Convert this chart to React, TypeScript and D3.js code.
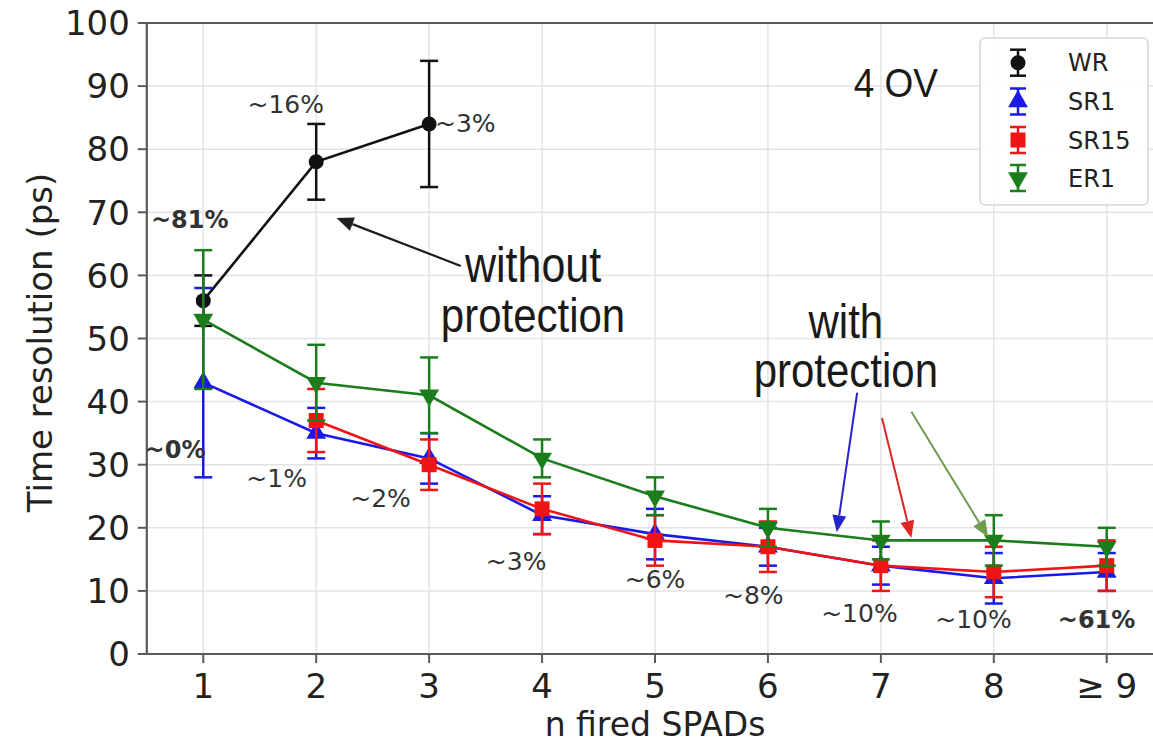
import React from "react";
import * as d3 from "d3";

// ---------- data ----------
const xTickLabels = ["1", "2", "3", "4", "5", "6", "7", "8", "≥ 9"];
const yTicks = [0, 10, 20, 30, 40, 50, 60, 70, 80, 90, 100];

const wrX = [1, 2, 3];
const wrY = [56, 78, 84];
const wrErr = [4, 6, 10];

const sr1X = [1, 2, 3, 4, 5, 6, 7, 8, 9];
const sr1Y = [43, 35, 31, 22, 19, 17, 14, 12, 13];
const sr1Err = [15, 4, 4, 3, 4, 3, 3, 4, 3];

const sr15X = [2, 3, 4, 5, 6, 7, 8, 9];
const sr15Y = [37, 30, 23, 18, 17, 14, 13, 14];
const sr15Err = [5, 4, 4, 4, 4, 4, 4, 4];

const er1X = [1, 2, 3, 4, 5, 6, 7, 8, 9];
const er1Y = [53, 43, 41, 31, 25, 20, 18, 18, 17];
const er1Err = [11, 6, 6, 3, 3, 3, 3, 4, 3];

const seriesNames = ["WR", "SR1", "SR15", "ER1"];

// percentage annotations (text, x, y in data units, bold)
const pctTexts = ["~81%", "~16%", "~3%", "~0%", "~1%", "~2%", "~3%", "~6%", "~8%", "~10%", "~10%", "~61%"];
const pctX = [0.88, 1.73, 3.32, 0.75, 1.65, 2.57, 3.77, 5.0, 5.87, 6.81, 7.82, 8.91];
const pctY = [67.5, 85.7, 82.7, 31, 26.5, 23.3, 13.3, 10.5, 7.9, 5.1, 4.1, 4.1];
const pctBold = [true, false, false, true, false, false, false, false, false, false, false, true];

// ---------- layout ----------
const W = 1153;
const H = 744;
const x = d3.scaleLinear().domain([0.5, 9.5]).range([146.8, 1163.2]);
const y = d3.scaleLinear().domain([0, 100]).range([654, 23]);

const C = {
  WR: "#111111",
  SR1: "#1a1ae8",
  SR15: "#f01414",
  ER1: "#1b7d1b",
};
const colors = [C.WR, C.SR1, C.SR15, C.ER1];

type Kind = "circle" | "up" | "square" | "down";
const kinds: Kind[] = ["circle", "up", "square", "down"];

function Marker({ cx, cy, kind, color }: { cx: number; cy: number; kind: Kind; color: string }) {
  if (kind === "circle") return <circle cx={cx} cy={cy} r={7.5} fill={color} />;
  if (kind === "square") return <rect x={cx - 7.5} y={cy - 7.5} width={15} height={15} fill={color} />;
  const p = d3.symbol().type(d3.symbolTriangle).size(170)()!;
  return <path d={p} transform={`translate(${cx},${cy}) rotate(${kind === "down" ? 180 : 0})`} fill={color} />;
}

function Series({ xs, ys, es, color, kind }: { xs: number[]; ys: number[]; es: number[]; color: string; kind: Kind }) {
  const line = d3
    .line<number>()
    .x((_, i) => x(xs[i]))
    .y((v) => y(v));
  return (
    <g>
      {xs.map((xv, i) => (
        <g key={"e" + i} stroke={color} strokeWidth={2.5}>
          <line x1={x(xv)} x2={x(xv)} y1={y(ys[i] - es[i])} y2={y(ys[i] + es[i])} />
          <line x1={x(xv) - 9} x2={x(xv) + 9} y1={y(ys[i] - es[i])} y2={y(ys[i] - es[i])} />
          <line x1={x(xv) - 9} x2={x(xv) + 9} y1={y(ys[i] + es[i])} y2={y(ys[i] + es[i])} />
        </g>
      ))}
      <path d={line(ys)!} fill="none" stroke={color} strokeWidth={2.6} />
      {xs.map((xv, i) => (
        <Marker key={"m" + i} cx={x(xv)} cy={y(ys[i])} kind={kind} color={color} />
      ))}
    </g>
  );
}

function Arrow({ x0, y0, x1, y1, color, w }: { x0: number; y0: number; x1: number; y1: number; color: string; w: number }) {
  const px0 = x(x0), py0 = y(y0), px1 = x(x1), py1 = y(y1);
  const ang = Math.atan2(py1 - py0, px1 - px0);
  const L = 17, Wd = 7;
  const bx = px1 - L * Math.cos(ang), by = py1 - L * Math.sin(ang);
  const nx = -Math.sin(ang), ny = Math.cos(ang);
  const head = `M${px1},${py1}L${bx + nx * Wd},${by + ny * Wd}L${bx - nx * Wd},${by - ny * Wd}Z`;
  return (
    <g>
      <line x1={px0} y1={py0} x2={bx} y2={by} stroke={color} strokeWidth={w} />
      <path d={head} fill={color} />
    </g>
  );
}

function StretchText({ cx, cy, text, size, anchor = "middle", sy = 1.14 }: { cx: number; cy: number; text: string; size: number; anchor?: string; sy?: number }) {
  return (
    <text
      transform={`translate(${cx},${cy}) scale(1,${sy})`}
      textAnchor={anchor as any}
      fontFamily="'Liberation Sans', Arial, sans-serif"
      fontSize={size}
      fill="#1a1a1a"
    >
      {text}
    </text>
  );
}

export default function App() {
  const font = "'DejaVu Sans', sans-serif";
  const legendY = [62.7, 101.5, 140, 178];
  return (
    <svg width={W} height={H} style={{ position: "absolute", left: 0, top: 0, background: "#fff" }}>
      <rect x={0} y={0} width={W} height={H} fill="#fff" />
      {/* grid */}
      <g stroke="#e3e3e3" strokeWidth={1.5}>
        {xTickLabels.map((_, i) => (
          <line key={"gx" + i} x1={x(i + 1)} x2={x(i + 1)} y1={y(0)} y2={y(100)} />
        ))}
        {yTicks.map((t) => (
          <line key={"gy" + t} x1={x(0.5)} x2={W} y1={y(t)} y2={y(t)} />
        ))}
      </g>

      {/* series */}
      <Series xs={wrX} ys={wrY} es={wrErr} color={C.WR} kind="circle" />
      <Series xs={sr1X} ys={sr1Y} es={sr1Err} color={C.SR1} kind="up" />
      <Series xs={sr15X} ys={sr15Y} es={sr15Err} color={C.SR15} kind="square" />
      <Series xs={er1X} ys={er1Y} es={er1Err} color={C.ER1} kind="down" />

      {/* frame */}
      <g stroke="#5a5a5a" strokeWidth={2.2} fill="none">
        <line x1={x(0.5)} x2={x(0.5)} y1={y(0)} y2={y(100)} />
        <line x1={x(0.5)} x2={W + 5} y1={y(0)} y2={y(0)} />
        <line x1={x(0.5)} x2={W + 5} y1={y(100)} y2={y(100)} />
      </g>

      {/* y ticks */}
      <g fontFamily={font} fontSize={34} fill="#222">
        {yTicks.map((t) => (
          <g key={"yt" + t}>
            <line x1={x(0.5) - 9} x2={x(0.5)} y1={y(t)} y2={y(t)} stroke="#5a5a5a" strokeWidth={2} />
            <text x={x(0.5) - 17} y={y(t)} dy="0.36em" textAnchor="end">
              {t}
            </text>
          </g>
        ))}
      </g>
      {/* x ticks */}
      <g fontFamily={font} fontSize={34} fill="#222">
        {xTickLabels.map((lab, i) => (
          <g key={"xt" + i}>
            <line x1={x(i + 1)} x2={x(i + 1)} y1={y(0)} y2={y(0) + 9} stroke="#5a5a5a" strokeWidth={2} />
            <text x={x(i + 1)} y={698} textAnchor="middle">
              {lab}
            </text>
          </g>
        ))}
      </g>
      <text x={x(5)} y={736} textAnchor="middle" fontFamily={font} fontSize={33} fill="#222">
        n fired SPADs
      </text>
      <text
        transform={`translate(52,${(y(0) + y(100)) / 2 + 4}) rotate(-90)`}
        textAnchor="middle"
        fontFamily={font}
        fontSize={34}
        fill="#222"
      >
        Time resolution (ps)
      </text>

      {/* percentage annotations */}
      <g fontFamily={font} fontSize={25} fill="#333">
        {pctTexts.map((t, i) => (
          <text key={"p" + i} x={x(pctX[i])} y={y(pctY[i])} textAnchor="middle" fontWeight={pctBold[i] ? "bold" : "normal"} fontSize={pctBold[i] ? 24 : 25}>
            {t}
          </text>
        ))}
      </g>

      {/* text annotations */}
      <StretchText cx={x(3.92)} cy={y(59)} text="without" size={43} />
      <StretchText cx={x(3.92)} cy={y(51)} text="protection" size={42} />
      <StretchText cx={x(6.69)} cy={y(50.1)} text="with" size={42} />
      <StretchText cx={x(6.69)} cy={y(42.3)} text="protection" size={42} />
      <StretchText cx={x(6.76)} cy={y(88.3)} text="4 OV" size={37} anchor="start" sy={1.12} />

      {/* arrows */}
      <Arrow x0={3.28} y0={61.5} x1={2.18} y1={69.1} color="#1e1e1e" w={2.2} />
      <Arrow x0={6.79} y0={41.4} x1={6.61} y1={19.3} color="#2424cc" w={2} />
      <Arrow x0={7.01} y0={37.4} x1={7.27} y1={18.4} color="#e02424" w={2} />
      <Arrow x0={7.27} y0={38.4} x1={7.95} y1={18.5} color="#6f9a50" w={2} />

      {/* legend */}
      <rect x={980} y={38} width={168} height={167} rx={5} fill="#fff" fillOpacity={0.85} stroke="#d6d6d6" strokeWidth={1.5} />
      {seriesNames.map((n, i) => {
        const cy = legendY[i];
        const cx = 1018;
        return (
          <g key={"lg" + i}>
            <g stroke={colors[i]} strokeWidth={2.5}>
              <line x1={cx} x2={cx} y1={cy - 13} y2={cy + 13} />
              <line x1={cx - 8} x2={cx + 8} y1={cy - 13} y2={cy - 13} />
              <line x1={cx - 8} x2={cx + 8} y1={cy + 13} y2={cy + 13} />
            </g>
            <Marker cx={cx} cy={cy} kind={kinds[i]} color={colors[i]} />
            <text x={1068} y={cy} dy="0.36em" fontFamily={font} fontSize={24} fill="#222">
              {n}
            </text>
          </g>
        );
      })}
    </svg>
  );
}
